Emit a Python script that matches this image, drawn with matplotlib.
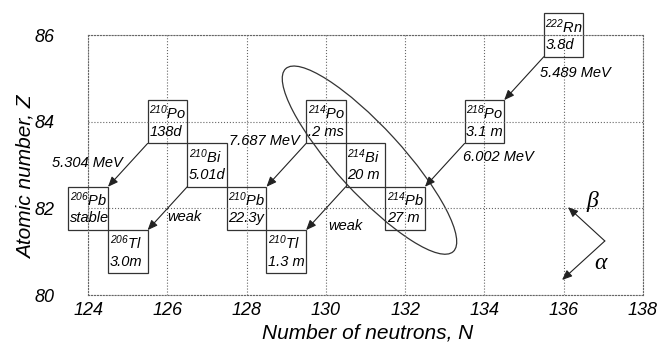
import matplotlib
matplotlib.use('Agg')
import matplotlib.pyplot as plt
from matplotlib.patches import Rectangle, Ellipse
from matplotlib.transforms import ScaledTranslation

plt.rcParams['font.family'] = 'Liberation Sans'
plt.rcParams['font.style'] = 'italic'
plt.rcParams['mathtext.default'] = 'regular'

# Nuclides of the 222Rn decay chain
symbols = ['Rn', 'Po', 'Pb', 'Bi', 'Po', 'Tl', 'Pb', 'Bi', 'Po', 'Tl', 'Pb']
mass = [222, 218, 214, 214, 214, 210, 210, 210, 210, 206, 206]
n_neutrons = [136, 134, 132, 131, 130, 129, 128, 127, 126, 125, 124]
z_atomic = [86, 84, 82, 83, 84, 81, 82, 83, 84, 81, 82]
half_lives = ['3.8d', '3.1 m', '27 m', '20 m', '.2 ms', '1.3 m', '22.3y', '5.01d',
              '138d', '3.0m', 'stable']

# alpha decays (index of parent nuclide), daughter is N-2, Z-2
alpha_parents = [0, 1, 4, 3, 8, 7]

# decay energy labels
energy_labels = ['5.489 MeV', '6.002 MeV', '7.687 MeV', 'weak', '5.304 MeV', 'weak']
energy_x = [135.40, 133.46, 129.35, 130.05, 124.88, 125.99]
energy_y = [85.12, 83.18, 83.55, 81.59, 83.05, 81.80]
energy_ha = ['left', 'left', 'right', 'left', 'right', 'left']

fig, ax = plt.subplots(figsize=(6.58, 3.44), dpi=100)
fig.subplots_adjust(left=0.134, right=0.977, bottom=0.142, top=0.898)

ax.set_xlim(124, 138)
ax.set_ylim(80, 86)
ax.set_xticks(range(124, 139, 2))
ax.set_yticks(range(80, 87, 2))
ax.grid(True, ls=':', color='#666666', lw=0.8)
for s in ax.spines.values():
    s.set_linestyle(':')
    s.set_color('#666666')
    s.set_linewidth(0.8)
ax.tick_params(length=0, labelsize=13)
ax.tick_params(axis='x', pad=5)
ax.tick_params(axis='y', pad=24)

ax.set_xlabel('Number of neutrons, N', fontsize=15)
ax.set_ylabel('Atomic number, Z', fontsize=15)
ax.xaxis.set_label_coords(0.5045, -0.108)
ax.yaxis.set_label_coords(-0.095, 0.454)

arrow_kw = dict(arrowstyle='-|>,head_length=0.6,head_width=0.25', color='#222222',
                lw=0.8, shrinkA=0, shrinkB=0, mutation_scale=10)

# boxes
for n, z, a, sym, t in zip(n_neutrons, z_atomic, mass, symbols, half_lives):
    ax.add_patch(Rectangle((n - 0.5, z - 0.5), 1, 1, fill=False, ec='#333333',
                           lw=0.9, clip_on=False))
    ax.text(n - 0.46, z + 0.055, f'$^{{{a}}}${sym}', fontsize=10.5, ha='left',
            va='baseline', clip_on=False)
    ax.text(n - 0.46, z - 0.32, t, fontsize=10.5, ha='left', va='baseline',
            clip_on=False)

# alpha decay arrows: from lower-left corner of parent to upper-right of daughter
for i in alpha_parents:
    n, z = n_neutrons[i], z_atomic[i]
    ax.annotate('', xy=(n - 1.5, z - 1.5), xytext=(n - 0.5, z - 0.5),
                arrowprops=arrow_kw, annotation_clip=False)

for lab, x, y, ha in zip(energy_labels, energy_x, energy_y, energy_ha):
    ax.text(x, y, lab, fontsize=10.5, ha=ha, va='center')

# ellipse round the 214 group
ell_center = (131.10, 83.115)
ell = Ellipse((0, 0), 2.48, 0.66, angle=-47.5, fill=False, ec='#333333', lw=0.9,
              transform=fig.dpi_scale_trans + ScaledTranslation(*ell_center, ax.transData))
ax.add_patch(ell)

# legend arrows for alpha and beta
origin = (137.04, 81.25)
ax.annotate('', xy=(136.11, 82.03), xytext=origin, arrowprops=arrow_kw)
ax.annotate('', xy=(135.96, 80.35), xytext=origin, arrowprops=arrow_kw)
ax.text(136.72, 82.15, 'β', family='Liberation Serif', style='italic', fontsize=17,
        ha='center', va='center')
ax.text(136.92, 80.74, 'α', family='Liberation Serif', style='italic', fontsize=17,
        ha='center', va='center')

plt.savefig('out.png', dpi=100)
